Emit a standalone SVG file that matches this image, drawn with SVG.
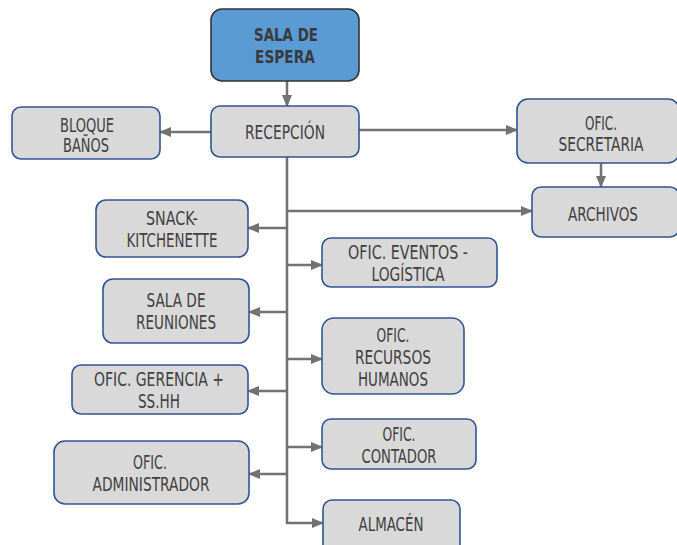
<svg xmlns="http://www.w3.org/2000/svg" width="677" height="545" viewBox="0 0 677 545">
  <style>
    .box { fill: #d9d9d9; stroke: #2f5597; stroke-width: 1.6; }
    .main { fill: #5b9bd5; stroke: #333333; stroke-width: 1.6; }
    .lbl { font-family: "DejaVu Sans", "Liberation Sans", sans-serif; font-stretch: condensed; font-size: 19px; fill: #404040; text-anchor: middle; }
    .bold { font-weight: bold; font-size: 18px; fill: #3a3a3a; }
    .wire { fill: none; stroke: #767171; stroke-width: 2.5; }
    .arr { fill: none; stroke: #767171; stroke-width: 2.5; marker-end: url(#head); }
  </style>
  <defs>
    <marker id="head" markerUnits="userSpaceOnUse" markerWidth="12" markerHeight="10" refX="11" refY="5" orient="auto">
      <path d="M0,0 L12,5 L0,10 Z" fill="#767171"/>
    </marker>
  </defs>

  <!-- connectors -->
  <g id="connectors">
    <line class="arr" x1="287" y1="81" x2="287" y2="106"/>
    <line class="arr" x1="211" y1="132" x2="160" y2="132"/>
    <line class="arr" x1="359" y1="130" x2="517" y2="130"/>
    <line class="arr" x1="601" y1="163" x2="601" y2="187"/>
    <line class="wire" x1="287" y1="157" x2="287" y2="524"/>
    <line class="arr" x1="287" y1="211" x2="532" y2="211"/>
    <line class="arr" x1="287" y1="228" x2="248" y2="228"/>
    <line class="arr" x1="287" y1="265" x2="322" y2="265"/>
    <line class="arr" x1="287" y1="312" x2="249" y2="312"/>
    <line class="arr" x1="287" y1="359" x2="322" y2="359"/>
    <line class="arr" x1="287" y1="391" x2="248" y2="391"/>
    <line class="arr" x1="287" y1="447" x2="322" y2="447"/>
    <line class="arr" x1="287" y1="474" x2="249" y2="474"/>
    <line class="arr" x1="286" y1="523" x2="323" y2="523"/>
  </g>

  <g id="sala-espera">
    <rect class="main" x="211" y="9" width="148" height="72" rx="11"/>
    <text class="lbl bold" x="286" y="41" textLength="64" lengthAdjust="spacingAndGlyphs">SALA DE</text>
    <text class="lbl bold" x="285" y="63" textLength="60" lengthAdjust="spacingAndGlyphs">ESPERA</text>
  </g>

  <g id="recepcion">
    <rect class="box" x="211" y="106" width="148" height="51" rx="9"/>
    <text class="lbl" x="285" y="139" textLength="80" lengthAdjust="spacingAndGlyphs">RECEPCIÓN</text>
  </g>

  <g id="bloque-banos">
    <rect class="box" x="12" y="107" width="148" height="52" rx="9"/>
    <text class="lbl" x="87" y="132" textLength="54" lengthAdjust="spacingAndGlyphs">BLOQUE</text>
    <text class="lbl" x="86" y="152" textLength="46" lengthAdjust="spacingAndGlyphs">BAÑOS</text>
  </g>

  <g id="secretaria">
    <rect class="box" x="517" y="99" width="162" height="64" rx="11"/>
    <text class="lbl" x="601" y="130" textLength="32" lengthAdjust="spacingAndGlyphs">OFIC.</text>
    <text class="lbl" x="601" y="151" textLength="85" lengthAdjust="spacingAndGlyphs">SECRETARIA</text>
  </g>

  <g id="archivos">
    <rect class="box" x="532" y="187" width="147" height="50" rx="9"/>
    <text class="lbl" x="603" y="221" textLength="70" lengthAdjust="spacingAndGlyphs">ARCHIVOS</text>
  </g>

  <g id="snack">
    <rect class="box" x="96" y="200" width="152" height="57" rx="10"/>
    <text class="lbl" x="172" y="225" textLength="52" lengthAdjust="spacingAndGlyphs">SNACK-</text>
    <text class="lbl" x="172" y="247" textLength="91" lengthAdjust="spacingAndGlyphs">KITCHENETTE</text>
  </g>

  <g id="eventos">
    <rect class="box" x="322" y="238" width="175" height="49" rx="9"/>
    <text class="lbl" x="408" y="259" textLength="120" lengthAdjust="spacingAndGlyphs">OFIC.  EVENTOS  -</text>
    <text class="lbl" x="408" y="281" textLength="73" lengthAdjust="spacingAndGlyphs">LOGÍSTICA</text>
  </g>

  <g id="reuniones">
    <rect class="box" x="103" y="279" width="146" height="64" rx="10"/>
    <text class="lbl" x="176" y="307" textLength="59" lengthAdjust="spacingAndGlyphs">SALA DE</text>
    <text class="lbl" x="176" y="329" textLength="80" lengthAdjust="spacingAndGlyphs">REUNIONES</text>
  </g>

  <g id="rrhh">
    <rect class="box" x="322" y="318" width="142" height="76" rx="12"/>
    <text class="lbl" x="393" y="342" textLength="33" lengthAdjust="spacingAndGlyphs">OFIC.</text>
    <text class="lbl" x="393" y="364" textLength="76" lengthAdjust="spacingAndGlyphs">RECURSOS</text>
    <text class="lbl" x="393" y="386" textLength="70" lengthAdjust="spacingAndGlyphs">HUMANOS</text>
  </g>

  <g id="gerencia">
    <rect class="box" x="72" y="365" width="176" height="49" rx="9"/>
    <text class="lbl" x="159" y="386" textLength="130" lengthAdjust="spacingAndGlyphs">OFIC.  GERENCIA  +</text>
    <text class="lbl" x="159" y="408" textLength="42" lengthAdjust="spacingAndGlyphs">SS.HH</text>
  </g>

  <g id="contador">
    <rect class="box" x="322" y="419" width="154" height="50" rx="9"/>
    <text class="lbl" x="399" y="441" textLength="33" lengthAdjust="spacingAndGlyphs">OFIC.</text>
    <text class="lbl" x="399" y="463" textLength="75" lengthAdjust="spacingAndGlyphs">CONTADOR</text>
  </g>

  <g id="administrador">
    <rect class="box" x="54" y="441" width="195" height="63" rx="11"/>
    <text class="lbl" x="150" y="469" textLength="34" lengthAdjust="spacingAndGlyphs">OFIC.</text>
    <text class="lbl" x="151" y="491" textLength="117" lengthAdjust="spacingAndGlyphs">ADMINISTRADOR</text>
  </g>

  <g id="almacen">
    <rect class="box" x="323" y="500" width="137" height="56" rx="9"/>
    <text class="lbl" x="391" y="531" textLength="65" lengthAdjust="spacingAndGlyphs">ALMACÉN</text>
  </g>
</svg>
